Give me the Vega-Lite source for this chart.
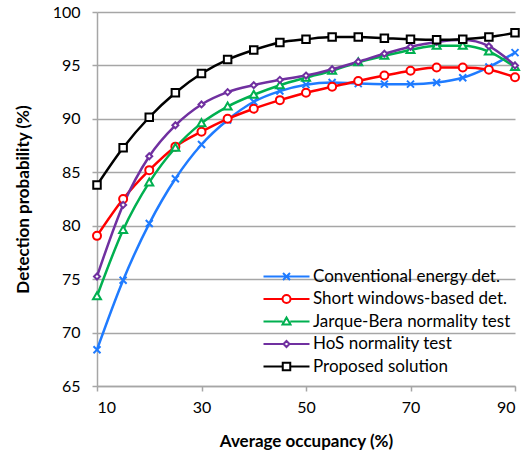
{
  "$schema": "https://vega.github.io/schema/vega-lite/v6.json",
  "width": 418,
  "height": 374,
  "autosize": {"type": "none"},
  "padding": {"left": 97, "top": 12, "right": 16, "bottom": 71},
  "config": {
    "font": "Lato",
    "view": {"stroke": null},
    "axis": {
      "labelFont": "Lato",
      "labelFontSize": 16,
      "labelColor": "#000000",
      "titleFont": "Lato",
      "titleFontSize": 17,
      "titleFontWeight": "bold",
      "titleColor": "#000000",
      "domainColor": "#A6A6A6",
      "domainWidth": 1.5,
      "tickColor": "#A6A6A6",
      "tickWidth": 1.5,
      "tickSize": 5,
      "gridColor": "#A6A6A6",
      "gridWidth": 1.3
    },
    "legend": {
      "labelFont": "Lato",
      "labelFontSize": 17,
      "labelColor": "#000000"
    }
  },
  "data": {
    "values": [
      {"occ": 10, "pd": 68.4, "method": "Conventional energy det."},
      {"occ": 15, "pd": 74.9, "method": "Conventional energy det."},
      {"occ": 20, "pd": 80.2, "method": "Conventional energy det."},
      {"occ": 25, "pd": 84.4, "method": "Conventional energy det."},
      {"occ": 30, "pd": 87.6, "method": "Conventional energy det."},
      {"occ": 35, "pd": 89.9, "method": "Conventional energy det."},
      {"occ": 40, "pd": 91.6, "method": "Conventional energy det."},
      {"occ": 45, "pd": 92.6, "method": "Conventional energy det."},
      {"occ": 50, "pd": 93.2, "method": "Conventional energy det."},
      {"occ": 55, "pd": 93.4, "method": "Conventional energy det."},
      {"occ": 60, "pd": 93.3, "method": "Conventional energy det."},
      {"occ": 65, "pd": 93.25, "method": "Conventional energy det."},
      {"occ": 70, "pd": 93.25, "method": "Conventional energy det."},
      {"occ": 75, "pd": 93.4, "method": "Conventional energy det."},
      {"occ": 80, "pd": 93.85, "method": "Conventional energy det."},
      {"occ": 85, "pd": 94.85, "method": "Conventional energy det."},
      {"occ": 90, "pd": 96.2, "method": "Conventional energy det."},
      {"occ": 10, "pd": 79.05, "method": "Short windows-based det."},
      {"occ": 15, "pd": 82.5, "method": "Short windows-based det."},
      {"occ": 20, "pd": 85.2, "method": "Short windows-based det."},
      {"occ": 25, "pd": 87.4, "method": "Short windows-based det."},
      {"occ": 30, "pd": 88.8, "method": "Short windows-based det."},
      {"occ": 35, "pd": 90.0, "method": "Short windows-based det."},
      {"occ": 40, "pd": 90.95, "method": "Short windows-based det."},
      {"occ": 45, "pd": 91.75, "method": "Short windows-based det."},
      {"occ": 50, "pd": 92.45, "method": "Short windows-based det."},
      {"occ": 55, "pd": 93.0, "method": "Short windows-based det."},
      {"occ": 60, "pd": 93.55, "method": "Short windows-based det."},
      {"occ": 65, "pd": 94.05, "method": "Short windows-based det."},
      {"occ": 70, "pd": 94.5, "method": "Short windows-based det."},
      {"occ": 75, "pd": 94.8, "method": "Short windows-based det."},
      {"occ": 80, "pd": 94.8, "method": "Short windows-based det."},
      {"occ": 85, "pd": 94.6, "method": "Short windows-based det."},
      {"occ": 90, "pd": 93.9, "method": "Short windows-based det."},
      {"occ": 10, "pd": 73.4, "method": "Jarque-Bera normality test"},
      {"occ": 15, "pd": 79.6, "method": "Jarque-Bera normality test"},
      {"occ": 20, "pd": 84.05, "method": "Jarque-Bera normality test"},
      {"occ": 25, "pd": 87.3, "method": "Jarque-Bera normality test"},
      {"occ": 30, "pd": 89.6, "method": "Jarque-Bera normality test"},
      {"occ": 35, "pd": 91.15, "method": "Jarque-Bera normality test"},
      {"occ": 40, "pd": 92.25, "method": "Jarque-Bera normality test"},
      {"occ": 45, "pd": 93.15, "method": "Jarque-Bera normality test"},
      {"occ": 50, "pd": 93.85, "method": "Jarque-Bera normality test"},
      {"occ": 55, "pd": 94.5, "method": "Jarque-Bera normality test"},
      {"occ": 60, "pd": 95.3, "method": "Jarque-Bera normality test"},
      {"occ": 65, "pd": 95.9, "method": "Jarque-Bera normality test"},
      {"occ": 70, "pd": 96.45, "method": "Jarque-Bera normality test"},
      {"occ": 75, "pd": 96.85, "method": "Jarque-Bera normality test"},
      {"occ": 80, "pd": 96.85, "method": "Jarque-Bera normality test"},
      {"occ": 85, "pd": 96.3, "method": "Jarque-Bera normality test"},
      {"occ": 90, "pd": 94.85, "method": "Jarque-Bera normality test"},
      {"occ": 10, "pd": 75.25, "method": "HoS normality test"},
      {"occ": 15, "pd": 81.95, "method": "HoS normality test"},
      {"occ": 20, "pd": 86.5, "method": "HoS normality test"},
      {"occ": 25, "pd": 89.4, "method": "HoS normality test"},
      {"occ": 30, "pd": 91.35, "method": "HoS normality test"},
      {"occ": 35, "pd": 92.5, "method": "HoS normality test"},
      {"occ": 40, "pd": 93.15, "method": "HoS normality test"},
      {"occ": 45, "pd": 93.65, "method": "HoS normality test"},
      {"occ": 50, "pd": 94.05, "method": "HoS normality test"},
      {"occ": 55, "pd": 94.65, "method": "HoS normality test"},
      {"occ": 60, "pd": 95.35, "method": "HoS normality test"},
      {"occ": 65, "pd": 96.1, "method": "HoS normality test"},
      {"occ": 70, "pd": 96.75, "method": "HoS normality test"},
      {"occ": 75, "pd": 97.2, "method": "HoS normality test"},
      {"occ": 80, "pd": 97.4, "method": "HoS normality test"},
      {"occ": 85, "pd": 96.8, "method": "HoS normality test"},
      {"occ": 90, "pd": 95.0, "method": "HoS normality test"},
      {"occ": 10, "pd": 83.8, "method": "Proposed solution"},
      {"occ": 15, "pd": 87.3, "method": "Proposed solution"},
      {"occ": 20, "pd": 90.15, "method": "Proposed solution"},
      {"occ": 25, "pd": 92.45, "method": "Proposed solution"},
      {"occ": 30, "pd": 94.25, "method": "Proposed solution"},
      {"occ": 35, "pd": 95.55, "method": "Proposed solution"},
      {"occ": 40, "pd": 96.45, "method": "Proposed solution"},
      {"occ": 45, "pd": 97.15, "method": "Proposed solution"},
      {"occ": 50, "pd": 97.45, "method": "Proposed solution"},
      {"occ": 55, "pd": 97.65, "method": "Proposed solution"},
      {"occ": 60, "pd": 97.65, "method": "Proposed solution"},
      {"occ": 65, "pd": 97.55, "method": "Proposed solution"},
      {"occ": 70, "pd": 97.45, "method": "Proposed solution"},
      {"occ": 75, "pd": 97.4, "method": "Proposed solution"},
      {"occ": 80, "pd": 97.45, "method": "Proposed solution"},
      {"occ": 85, "pd": 97.65, "method": "Proposed solution"},
      {"occ": 90, "pd": 98.05, "method": "Proposed solution"}
    ]
  },
  "encoding": {
    "x": {
      "field": "occ",
      "type": "quantitative",
      "scale": {"domain": [10, 90], "nice": false},
      "axis": {
        "values": [10, 30, 50, 70, 90],
        "grid": false,
        "title": "Average occupancy (%)",
        "labelPadding": 8,
        "titlePadding": 18
      }
    },
    "y": {
      "field": "pd",
      "type": "quantitative",
      "scale": {"domain": [65, 100], "nice": false, "zero": false},
      "axis": {
        "values": [65, 70, 75, 80, 85, 90, 95, 100],
        "grid": true,
        "title": "Detection probability (%)",
        "labelPadding": 12,
        "titlePadding": 20
      }
    }
  },
  "layer": [
    {
      "mark": {"type": "line", "interpolate": "monotone", "strokeWidth": 2.5},
      "encoding": {
        "color": {
          "field": "method",
          "type": "nominal",
          "scale": {
            "domain": ["Conventional energy det.", "Short windows-based det.", "Jarque-Bera normality test", "HoS normality test", "Proposed solution"],
            "range": ["#1F7BFF", "#FF0000", "#00B050", "#7030A0", "#000000"]
          },
          "legend": {
            "title": null,
            "orient": "none",
            "legendX": 181,
            "legendY": 256,
            "padding": 0,
            "symbolSize": 100,
            "symbolStrokeWidth": 2,
            "symbolFillColor": "white",
            "symbolOpacity": 1,
            "labelOffset": 18,
            "labelLimit": 0,
            "rowPadding": 4.5,
            "encode": {
              "symbols": {
                "update": {
                  "shape": {"signal": "datum.value === 'Conventional energy det.' ? 'M-4.6,0L4.6,0M-0.7,-0.7L0.7,0.7M-0.7,0.7L0.7,-0.7' : datum.value === 'Short windows-based det.' ? 'M-4.6,0L-0.8,0M0.8,0L4.6,0M-0.8,0A0.8,0.8,0,1,1,0.8,0A0.8,0.8,0,1,1,-0.8,0Z' : datum.value === 'Jarque-Bera normality test' ? 'M-4.6,0L-0.75,0M0.75,0L4.6,0M0,-0.8L0.8,0.6L-0.8,0.6Z' : datum.value === 'HoS normality test' ? 'M-4.6,0L-0.6,0M0.6,0L4.6,0M0,-0.6L0.6,0L0,0.6L-0.6,0Z' : 'M-4.6,0L-0.75,0M0.75,0L4.6,0M-0.75,-0.75L0.75,-0.75L0.75,0.75L-0.75,0.75Z'"},
                  "fill": {"value": "white"}
                }
              }
            }
          }
        }
      }
    },
    {
      "transform": [{"filter": "datum.method === 'Conventional energy det.'"}],
      "mark": {"type": "point", "filled": false, "fill": "white", "color": "#1F7BFF", "strokeWidth": 2, "size": 100, "opacity": 1, "shape": "M-0.7,-0.7L0.7,0.7M-0.7,0.7L0.7,-0.7"}
    },
    {
      "transform": [{"filter": "datum.method === 'Short windows-based det.'"}],
      "mark": {"type": "point", "filled": false, "fill": "white", "color": "#FF0000", "strokeWidth": 2, "size": 100, "opacity": 1, "shape": "M-0.8,0A0.8,0.8,0,1,1,0.8,0A0.8,0.8,0,1,1,-0.8,0Z"}
    },
    {
      "transform": [{"filter": "datum.method === 'Jarque-Bera normality test'"}],
      "mark": {"type": "point", "filled": false, "fill": "white", "color": "#00B050", "strokeWidth": 2, "size": 100, "opacity": 1, "shape": "M0,-0.8L0.8,0.6L-0.8,0.6Z"}
    },
    {
      "transform": [{"filter": "datum.method === 'HoS normality test'"}],
      "mark": {"type": "point", "filled": false, "fill": "white", "color": "#7030A0", "strokeWidth": 2, "size": 100, "opacity": 1, "shape": "M0,-0.6L0.6,0L0,0.6L-0.6,0Z"}
    },
    {
      "transform": [{"filter": "datum.method === 'Proposed solution'"}],
      "mark": {"type": "point", "filled": false, "fill": "white", "color": "#000000", "strokeWidth": 2, "size": 100, "opacity": 1, "shape": "M-0.75,-0.75L0.75,-0.75L0.75,0.75L-0.75,0.75Z"}
    }
  ]
}
